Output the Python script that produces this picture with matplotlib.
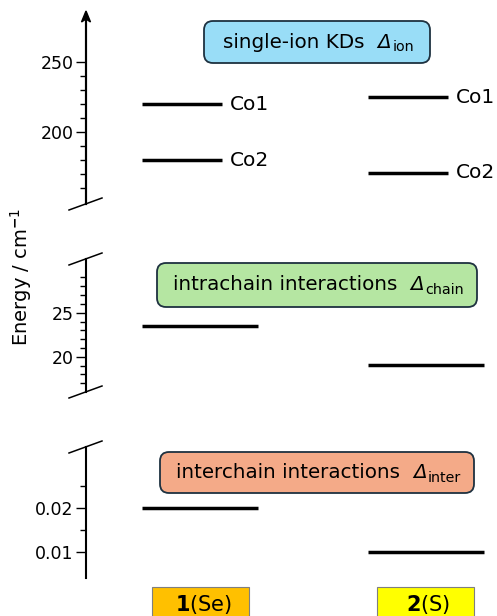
import matplotlib
matplotlib.use("Agg")
import matplotlib.pyplot as plt
from matplotlib.patches import FancyBboxPatch
from matplotlib.lines import Line2D
from matplotlib.ticker import FixedLocator

plt.rcParams['font.family'] = ['DejaVu Sans']
plt.rcParams['mathtext.fontset'] = 'dejavusans'

# ---- data ----
compounds = [r"$\mathbf{1}$(Se)", r"$\mathbf{2}$(S)"]
compound_colors = ['#FFC000', '#FFFF00']
ion_co1 = [220, 225]
ion_co2 = [180, 171]
chain_levels = [23.5, 19.1]
inter_levels = [0.020, 0.010]

panel_titles = ["single-ion KDs  ", "intrachain interactions  ", "interchain interactions  "]
panel_subs = ["ion", "chain", "inter"]
panel_colors = ['#99DDF7', '#B5E6A2', '#F4AA88']

ion_major = [200, 250]
ion_minor = [160, 170, 180, 190, 210, 220, 230, 240]
chain_major = [20, 25]
chain_minor = [17, 18, 19, 21, 22, 23, 24, 26, 27, 28, 29]
inter_major = [0.01, 0.02]
inter_minor = [0.015, 0.025]

W, H = 497, 616
fig = plt.figure(figsize=(W / 100, H / 100), dpi=100)
renderer = fig.canvas.get_renderer()


def ax_px(left, top, right, bottom):
    return fig.add_axes([left / W, 1 - bottom / H, (right - left) / W, (bottom - top) / H])


XL = (1 - 114 / 226, 2 + 71 / 226)
centers = [1, 2]
half = 58 / 226

panels = [
    dict(box=(14, 204), ylim=(148.6, 284.3), major=ion_major, minor=ion_minor, fmt='{:.0f}'),
    dict(box=(259, 392), ylim=(16.0, 31.1), major=chain_major, minor=chain_minor, fmt='{:.0f}'),
    dict(box=(447, 578), ylim=(0.0041, 0.0339), major=inter_major, minor=inter_minor, fmt='{:.2f}'),
]
axes = []
for p in panels:
    ax = ax_px(86, p['box'][0], 497, p['box'][1])
    ax.set_xlim(*XL)
    ax.set_ylim(*p['ylim'])
    for s in ['top', 'right', 'bottom']:
        ax.spines[s].set_visible(False)
    ax.spines['left'].set_linewidth(1.5)
    ax.set_xticks([])
    ax.yaxis.set_major_locator(FixedLocator(p['major']))
    ax.yaxis.set_minor_locator(FixedLocator(p['minor']))
    ax.set_yticklabels([p['fmt'].format(v) for v in p['major']])
    ax.tick_params(axis='y', which='major', length=7, width=1.0, labelsize=12.5, pad=2)
    ax.tick_params(axis='y', which='minor', length=4.5, width=1.0)
    ax.patch.set_visible(False)
    axes.append(ax)

# ---- levels ----
ax = axes[0]
short = 80 / 226
for i, c in enumerate(centers):
    for lvl, name in [(ion_co1[i], 'Co1'), (ion_co2[i], 'Co2')]:
        ax.plot([c - half, c - half + short], [lvl, lvl], color='black', lw=2.5,
                solid_capstyle='butt')
        ax.text(c - half + short + 0.035, lvl, name, ha='left', va='center', fontsize=14.5)

for ax, levels in [(axes[1], chain_levels), (axes[2], inter_levels)]:
    for i, c in enumerate(centers):
        ax.plot([c - half, c + half], [levels[i], levels[i]], color='black', lw=2.5,
                solid_capstyle='butt')

# ---- arrow on top ----
fig.add_artist(Line2D([86 / W, 86 / W], [1 - 204 / H, 1 - 20 / H], color='black', lw=1.5))
fig.patches.append(plt.Polygon([[(86 - 4.5) / W, 1 - 22 / H], [86 / W, 1 - 11 / H],
                                [(86 + 4.5) / W, 1 - 22 / H], [86 / W, 1 - 19 / H]],
                               closed=True, color='black', transform=fig.transFigure))

# ---- break marks ----
for py in [204, 259, 392, 447]:
    fig.add_artist(Line2D([(86 - 17) / W, (86 + 16) / W], [1 - (py + 6) / H, 1 - (py - 6) / H],
                          color='black', lw=1.1))


# ---- panel title boxes ----
def title_text(cx, cy, main, sub, fs):
    # build from pieces: main text, italic Delta, subscript
    y = 1 - cy / H
    t1 = fig.text(0, y, main, fontsize=fs, va='center')
    t2 = fig.text(0, y, "Δ", fontsize=fs, va='center', fontstyle='italic')
    t3 = fig.text(0, y - 5 / H, sub, fontsize=fs * 0.72, va='center')
    ws = [t.get_window_extent(renderer).width for t in (t1, t2, t3)]
    x = cx - sum(ws) / 2
    for t, w in zip((t1, t2, t3), ws):
        t.set_x(x / W)
        x += w + (1 if t is t2 else 0)


boxes = [(204, 21, 430, 63), (157, 263, 477, 307), (160, 452, 474, 493)]
for (l, t, r, b), title, sub, col in zip(boxes, panel_titles, panel_subs, panel_colors):
    patch = FancyBboxPatch((l / 100, (H - b) / 100), (r - l) / 100, (b - t) / 100,
                           boxstyle='round,pad=0,rounding_size=0.09',
                           transform=fig.dpi_scale_trans, facecolor=col,
                           edgecolor='#1E3140', lw=1.3)
    fig.patches.append(patch)
    title_text((l + r) / 2 + 1, (t + b) / 2, title, sub, 14.3)

# ---- compound labels ----
cboxes = [(152, 587, 249, 620), (377, 587, 474, 620)]
for (l, t, r, b), lab, col in zip(cboxes, compounds, compound_colors):
    patch = FancyBboxPatch((l / 100, (H - b) / 100), (r - l) / 100, (b - t) / 100,
                           boxstyle='square,pad=0', transform=fig.dpi_scale_trans,
                           facecolor=col, edgecolor='#7F7F7F', lw=0.8)
    fig.patches.append(patch)
    fig.text((l + r) / 2 / W + 3 / W, 1 - 604 / H, lab, ha='center', va='center', fontsize=15)

# ---- y label ----
fig.text(21 / W, 1 - 277 / H, r"Energy / cm$^{\mathbf{-}1}$", rotation=90, ha='center',
         va='center', fontsize=14)

fig.savefig('out.png', dpi=100)
